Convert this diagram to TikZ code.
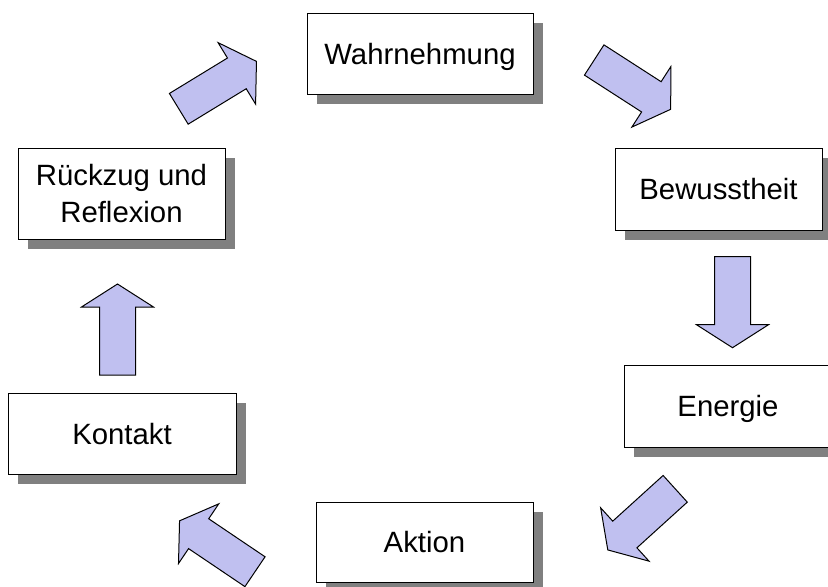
\documentclass[tikz,border=0pt]{standalone}
\usepackage{fontspec}
\setmainfont{Liberation Sans}
\usetikzlibrary{shadows}
\definecolor{arrowfill}{RGB}{192,192,240}
\definecolor{shadowgray}{RGB}{128,128,128}
\tikzset{
  stagebox/.style={draw=black, line width=0.75pt, fill=white, align=center,
    inner sep=0pt, font=\fontsize{22}{27.75}\selectfont, text depth=0pt,
    drop shadow={shadow xshift=7.5pt, shadow yshift=-7.5pt, fill=shadowgray, opacity=1}},
  oneline/.style={text height=15.75pt},
  blockarrow/.pic={\draw[line width=0.75pt, fill=arrowfill, line join=miter]
    (0,18)--(68,18)--(68,36)--(91,0)--(68,-36)--(68,-18)--(0,-18)--cycle;}
}
\begin{document}
\begin{tikzpicture}[x=0.75pt,y=-0.75pt]
\clip (0,0) rectangle (828,586);
\node[stagebox, oneline, minimum width=226*0.75pt, minimum height=81*0.75pt] (wahr) at (420,53.5) {Wahrnehmung};
\node[stagebox, oneline, minimum width=207*0.75pt, minimum height=82*0.75pt] (bew) at (718.5,189) {Bewusstheit};
\node[stagebox, oneline, minimum width=208*0.75pt, minimum height=82*0.75pt] (energ) at (728,406) {Energie};
\node[stagebox, oneline, minimum width=217*0.75pt, minimum height=80*0.75pt] (akt) at (424.5,542) {Aktion};
\node[stagebox, oneline, minimum width=228*0.75pt, minimum height=81*0.75pt] (kont) at (122,433.5) {Kontakt};
\node[stagebox, minimum width=207*0.75pt, minimum height=91*0.75pt] (rueck) at (121.5,193.5) {Rückzug und\\Reflexion};
\pic[rotate=31.4] at (178.8,108.8) {blockarrow};
\pic[rotate=-32.8] at (594.2,60) {blockarrow};
\pic[rotate=-90] at (732.5,256.7) {blockarrow};
\pic[rotate=222.2] at (675.2,488.8) {blockarrow};
\pic[rotate=146] at (255,571.7) {blockarrow};
\pic[rotate=90] at (117.5,375) {blockarrow};
\end{tikzpicture}
\end{document}
